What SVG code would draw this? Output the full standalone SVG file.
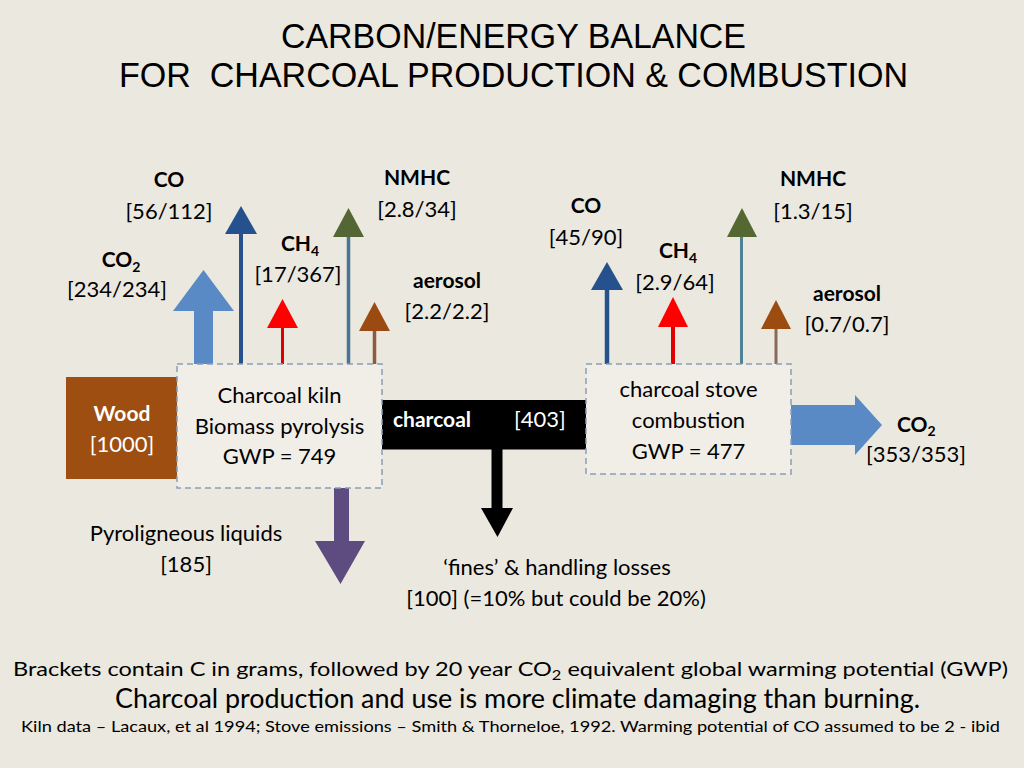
<svg xmlns="http://www.w3.org/2000/svg" width="1024" height="768" viewBox="0 0 1024 768">
<defs>
<style>
.t{font-family:Lato,"Liberation Sans",sans-serif;fill:#000}
.b{font-weight:bold}
.w{fill:#fff}
.c{text-anchor:middle}
.lab{font-size:21px;font-weight:bold}
.br{font-size:22px}
.box{font-size:22px}
.title{font-family:"Liberation Sans Narrow","Liberation Sans",Arial,sans-serif;font-size:35px;fill:#000}
.dash{fill:#F0EEE7;stroke:#8A9EB8;stroke-width:1.5;stroke-dasharray:6 4}
</style>
</defs>
<rect x="0" y="0" width="1024" height="768" fill="#EBE8DF"/>

<g id="title">
<text class="title" x="281" y="48" textLength="465" lengthAdjust="spacingAndGlyphs">CARBON/ENERGY BALANCE</text>
<text class="title" x="119" y="87" textLength="789" lengthAdjust="spacingAndGlyphs" xml:space="preserve">FOR  CHARCOAL PRODUCTION &amp; COMBUSTION</text>
</g>

<g id="connectors">
<!-- kiln emissions -->
<rect x="194" y="309" width="19" height="56" fill="#5A8AC6"/>
<polygon points="173,311 234,311 203.5,270" fill="#5A8AC6"/>
<line x1="241" y1="365" x2="241" y2="232" stroke="#25528C" stroke-width="4"/>
<polygon points="225,234 257,234 241,206" fill="#25528C"/>
<line x1="282.5" y1="365" x2="282.5" y2="326" stroke="#E00000" stroke-width="3"/>
<polygon points="267,328 298,328 282.5,299" fill="#FF0000"/>
<line x1="348.5" y1="365" x2="348.5" y2="235" stroke="#4A7396" stroke-width="3.5"/>
<polygon points="333,237 364,237 348.5,208" fill="#536633"/>
<line x1="374.5" y1="365" x2="374.5" y2="329" stroke="#8E5B3D" stroke-width="3.5"/>
<polygon points="359,331 390,331 374.5,302" fill="#9B4B12"/>
<!-- stove emissions -->
<line x1="607" y1="365" x2="607" y2="288" stroke="#25528C" stroke-width="4.5"/>
<polygon points="591,290 623,290 607,262" fill="#25528C"/>
<line x1="673" y1="365" x2="673" y2="325" stroke="#E00000" stroke-width="4"/>
<polygon points="658,327 688,327 673,297" fill="#FF0000"/>
<line x1="741.5" y1="365" x2="741.5" y2="235" stroke="#4E8297" stroke-width="3"/>
<polygon points="727,237 757,237 742,208" fill="#556832"/>
<line x1="776" y1="365" x2="776" y2="327" stroke="#8B6A5A" stroke-width="3"/>
<polygon points="761,329 791,329 776,300" fill="#9C4C10"/>
<!-- charcoal flow -->
<rect x="382" y="400" width="204" height="49.5" fill="#000"/>
<polygon points="491.5,449 502.5,449 502.5,508 513,508 497.5,537 481,508 491.5,508" fill="#000"/>
<!-- pyroligneous -->
<polygon points="334,488 349,488 349,541 365,541 340.5,584 315,541 334,541" fill="#5E4C80"/>
<!-- stove CO2 -->
<polygon points="791,405 855,405 855,395 882,425 855,455 855,445 791,445" fill="#5A8AC6"/>
</g>

<g id="wood">
<rect x="66" y="377" width="111" height="102" fill="#9E4E10"/>
<text class="t w b c" x="122" y="421" font-size="21">Wood</text>
<text class="t w c" x="122" y="452" font-size="22">[1000]</text>
</g>

<g id="kiln">
<rect class="dash" x="177" y="364" width="205" height="124"/>
<text class="t c box" x="279.5" y="403">Charcoal kiln</text>
<text class="t c box" x="279.5" y="434">Biomass pyrolysis</text>
<text class="t c box" x="279.5" y="464">GWP = 749</text>
</g>

<g id="charcoal">
<text class="t w b" x="393" y="427" font-size="21">charcoal</text>
<text class="t w" x="514" y="427" font-size="22">[403]</text>
</g>

<g id="stove">
<rect class="dash" x="586" y="364" width="205" height="110"/>
<text class="t c box" x="688.5" y="397">charcoal stove</text>
<text class="t c box" x="688.5" y="428">combustion</text>
<text class="t c box" x="688.5" y="459">GWP = 477</text>
</g>

<g id="kiln-labels">
<text class="t c lab" x="169" y="187">CO</text>
<text class="t c br" x="169" y="219">[56/112]</text>
<text class="t c lab" x="121" y="267">CO<tspan font-size="14" dy="5">2</tspan></text>
<text class="t c br" x="117" y="297">[234/234]</text>
<text class="t c lab" x="300" y="251">CH<tspan font-size="14" dy="5">4</tspan></text>
<text class="t c br" x="298" y="282">[17/367]</text>
<text class="t c lab" x="417" y="185">NMHC</text>
<text class="t c br" x="417" y="217">[2.8/34]</text>
<text class="t c lab" x="447" y="288">aerosol</text>
<text class="t c br" x="447" y="319">[2.2/2.2]</text>
</g>

<g id="stove-labels">
<text class="t c lab" x="586" y="213">CO</text>
<text class="t c br" x="586" y="245">[45/90]</text>
<text class="t c lab" x="678" y="258">CH<tspan font-size="14" dy="5">4</tspan></text>
<text class="t c br" x="675" y="290">[2.9/64]</text>
<text class="t c lab" x="813" y="186">NMHC</text>
<text class="t c br" x="813" y="219">[1.3/15]</text>
<text class="t c lab" x="847" y="301">aerosol</text>
<text class="t c br" x="847" y="332">[0.7/0.7]</text>
<text class="t lab" x="897" y="432">CO<tspan font-size="14" dy="4">2</tspan></text>
<text class="t c br" x="916" y="462">[353/353]</text>
</g>

<g id="losses">
<text class="t c br" x="186" y="541">Pyroligneous liquids</text>
<text class="t c br" x="186" y="572">[185]</text>
<text class="t c br" x="557" y="575">‘fines’ &amp; handling losses</text>
<text class="t c br" x="556" y="606">[100] (=10% but could be 20%)</text>
</g>

<g id="notes">
<text class="t" x="13" y="676" font-size="20" textLength="995" lengthAdjust="spacingAndGlyphs">Brackets contain C in grams, followed by 20 year CO<tspan font-size="14" dy="4">2</tspan><tspan dy="-4"> equivalent global warming potential (GWP)</tspan></text>
<text class="t" x="115" y="708" font-size="26" textLength="805" lengthAdjust="spacingAndGlyphs">Charcoal production and use is more climate damaging than burning.</text>
<text class="t" x="21" y="732" font-size="16" textLength="979" lengthAdjust="spacingAndGlyphs">Kiln data – Lacaux, et al 1994; Stove emissions – Smith &amp; Thorneloe, 1992. Warming potential of CO assumed to be 2 - ibid</text>
</g>
</svg>
